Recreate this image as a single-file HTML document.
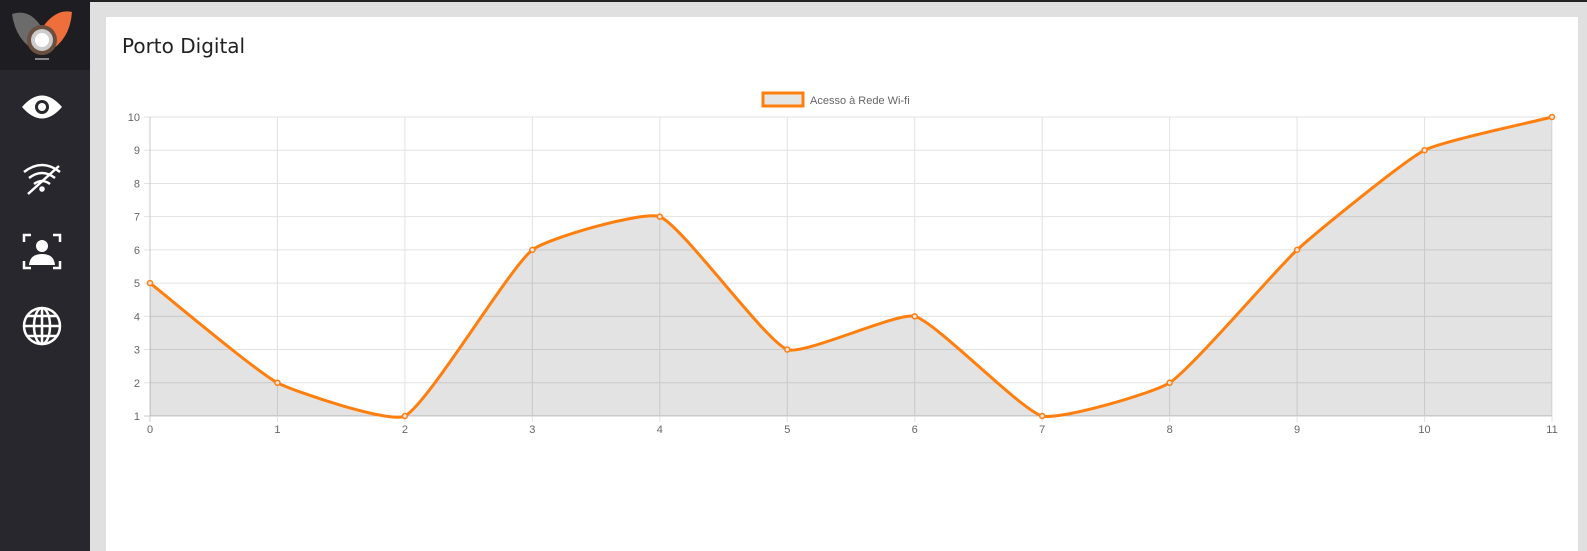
<!DOCTYPE html>
<html><head><meta charset="utf-8"><style>
body{margin:0;width:1587px;height:551px;overflow:hidden;background:#e0e0e0;font-family:"Liberation Sans",sans-serif;position:relative}
#topline{position:absolute;left:0;top:0;width:1587px;height:2px;background:#222}
#sidebar{position:absolute;left:0;top:0;width:90px;height:551px;background:#28272d}
#logo{position:absolute;left:0;top:0;width:90px;height:70px;background:#1e1d22}
#card{position:absolute;left:106px;top:17px;width:1472px;height:534px;background:#fff}
#title{position:absolute;left:122px;top:34px;font-size:20px;color:#222;font-family:"DejaVu Sans","Liberation Sans",sans-serif}
svg{position:absolute;left:0;top:0}
</style></head><body>
<div id="topline"></div>
<div id="card"></div>
<div id="sidebar">
<div id="logo">
<svg width="90" height="70">
<path d="M12,14 Q30,8 42,28 L38,52 Q16,42 12,14Z" fill="#6b6b6b"/>
<path d="M72,12 Q56,8 42,28 L48,52 Q70,40 72,12Z" fill="#ef6f3c"/>
<circle cx="42" cy="40" r="15" fill="#6a5040"/>
<circle cx="42" cy="40" r="11" fill="#ccc"/><circle cx="42" cy="40" r="7" fill="#fff"/>
<rect x="35" y="58" width="14" height="2" fill="#888"/>
</svg></div>
<svg width="90" height="551" style="top:0">
<g><path d="M22,107 Q42,84 62,107 Q42,130 22,107Z" fill="#fff"/><circle cx="42" cy="107" r="7" fill="#28272d"/><circle cx="42" cy="107" r="4" fill="#fff"/></g>
<g fill="none" stroke="#fff" stroke-width="2.5"><path d="M24,172 Q42,158 60,172"/><path d="M29,178 Q42,168 55,178"/><path d="M34,184 Q42,178 50,184"/><circle cx="42" cy="189" r="1.5" fill="#fff"/><path d="M28,194 L59,166"/></g>
<g><path d="M24,242 v-7 h7 M53,235 h7 v7 M60,261 v7 h-7 M31,268 h-7 v-7" fill="none" stroke="#fff" stroke-width="2.5"/><circle cx="42" cy="246" r="6" fill="#fff"/><path d="M29,265 Q30,254 42,254 Q54,254 55,265Z" fill="#fff"/></g>
<g fill="none" stroke="#fff" stroke-width="2.5"><circle cx="42" cy="326" r="18"/><ellipse cx="42" cy="326" rx="8" ry="18"/><path d="M42,308 V344 M24,326 H60 M27,316 H57 M27,336 H57"/></g>
</svg>
</div>
<div id="title">Porto Digital</div>
<svg id="chart" width="1587" height="551"></svg>
<script>
const categories=[0,1,2,3,4,5,6,7,8,9,10,11];
const values=[5,2,1,6,7,3,4,1,2,6,9,10];
const yTicks=[1,2,3,4,5,6,7,8,9,10];
const seriesLabel="Acesso à Rede Wi-fi";
const X0=150,X1=1552,Y0=416,Y1=117,ymin=1,ymax=10;
const xs=i=>X0+(X1-X0)*i/(categories.length-1);
const ys=v=>Y0-(Y0-Y1)*(v-ymin)/(ymax-ymin);
const svg=document.getElementById('chart');const NS='http://www.w3.org/2000/svg';
function mk(t,a){const e=document.createElementNS(NS,t);for(const k in a)e.setAttribute(k,a[k]);svg.appendChild(e);return e;}
yTicks.forEach(v=>{const l=mk('line',{x1:X0-6,x2:X1,y1:ys(v),y2:ys(v),stroke:v===ymin?'#c8c8c8':'#e2e2e2','stroke-width':1});


const t=mk('text',{x:X0-10,y:ys(v)+4,'text-anchor':'end','font-size':11,fill:'#666'});t.textContent=v;

});
categories.forEach((c,i)=>{const l=mk('line',{x1:xs(i),x2:xs(i),y1:Y1,y2:Y0+6,stroke:i===0?'#c8c8c8':'#e2e2e2','stroke-width':1});


const t=mk('text',{x:xs(i),y:Y0+17,'text-anchor':'middle','font-size':11,fill:'#666'});t.textContent=c;

});
const pts=values.map((v,i)=>[xs(i),ys(v)]);
function cps(p0,p1,p2,t){const d01=Math.hypot(p1[0]-p0[0],p1[1]-p0[1]),d12=Math.hypot(p2[0]-p1[0],p2[1]-p1[1]);
let fa=d01/(d01+d12)||0,fb=d12/(d01+d12)||0;fa*=t;fb*=t;
return [[p1[0]-fa*(p2[0]-p0[0]),p1[1]-fa*(p2[1]-p0[1])],[p1[0]+fb*(p2[0]-p0[0]),p1[1]+fb*(p2[1]-p0[1])]];}
const cp=pts.map((p,i)=>cps(pts[Math.max(0,i-1)],p,pts[Math.min(pts.length-1,i+1)],0.15));
let d='M'+pts[0].join(',');
for(let i=1;i<pts.length;i++){d+=' C'+cp[i-1][1].join(',')+' '+cp[i][0].join(',')+' '+pts[i].join(',');}
const area=mk('path',{d:d+' L'+X1+','+Y0+' L'+X0+','+Y0+'Z',fill:'rgba(0,0,0,0.11)'});


const line=mk('path',{d:d,fill:'none',stroke:'#ff7f0e','stroke-width':3});


pts.forEach(p=>{const c=mk('circle',{cx:p[0],cy:p[1],r:2.5,fill:'#e5e5e5',stroke:'#ff7f0e','stroke-width':1.5});

});
const lb=mk('rect',{x:763,y:93,width:40,height:13,fill:'#e5e5e5',stroke:'#ff7f0e','stroke-width':3});


const lt=mk('text',{x:810,y:104,'font-size':11,fill:'#666'});lt.textContent=seriesLabel;


</script>
</body></html>
